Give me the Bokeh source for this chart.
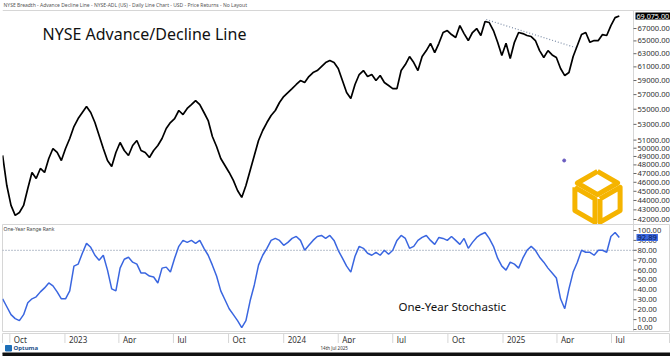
import math
import pandas as pd
from bokeh.plotting import figure
from bokeh.layouts import column
from bokeh.models import Range1d, LinearScale
from bokeh.core.properties import value
from bokeh.embed import file_html
from bokeh.resources import INLINE

HEADER = "NYSE Breadth - Advance Decline Line - NYSE-ADL (US) - Daily Line Chart - USD - Price Returns - No Layout"
TITLE = "NYSE Advance/Decline Line"
PANEL2_TITLE = "One-Year Range Rank"
PANEL2_NOTE = "One-Year Stochastic"
FOOTER_DATE = "14th Jul 2025"
BRAND = "Optuma"

dates = pd.date_range("2022-09-19", "2025-07-14", freq="W-MON")

adl = [49120, 45640, 43470, 42420, 42730, 43470, 45310, 47120, 46430, 47580,
       47120, 48760, 49960, 49480, 48520, 49960, 51200, 52720, 53760, 54560,
       55360, 54560, 53240, 51580, 49960, 48520, 47810, 49480, 50700, 49720,
       49120, 50330, 50950, 49720, 49480, 48880, 49720, 50330, 51200, 52470,
       53240, 53760, 54830, 54290, 55100, 55630, 56180, 55630, 54560, 53500,
       51450, 50210, 48760, 47930, 47120, 46210, 45090, 44330, 45640, 47350,
       49120, 50950, 52210, 53240, 54160, 54830, 55910, 56730, 57290, 57850,
       58430, 59000, 58710, 59570, 60160, 60460, 61050, 61650, 61950, 61650,
       60760, 59000, 57290, 56450, 58430, 59870, 60460, 59570, 59870, 59000,
       59720, 58710, 58280, 57850, 57850, 60460, 61350, 62560, 61650, 60460,
       62560, 63480, 64620, 63170, 64620, 66350, 66670, 66020, 65540, 67490,
       66180, 65060, 66350, 67000, 65860, 68160, 67990, 66670, 64780, 62720,
       64620, 62260, 64780, 66350, 66180, 65860, 65700, 65060, 63480, 62420,
       63480, 62810, 62420, 60760, 59720, 60160, 62560, 64270, 66020, 66350,
       64780, 65060, 65060, 66020, 65860, 67490, 68810, 69075]

rank = [31, 23, 15, 11, 9, 15, 27, 31, 33, 38,
        42, 47, 44, 38, 31, 31, 39, 64, 66, 77,
        87, 83, 75, 70, 75, 60, 41, 39, 62, 71,
        73, 68, 66, 57, 57, 54, 53, 47, 62, 63,
        58, 72, 84, 90, 88, 90, 87, 90, 82, 75,
        65, 54, 39, 30, 21, 15, 9, 2, 9, 29,
        45, 65, 75, 82, 90, 92, 90, 85, 88, 92,
        94, 90, 80, 85, 90, 94, 95, 92, 95, 90,
        80, 72, 64, 58, 74, 84, 82, 77, 75, 78,
        75, 80, 76, 80, 90, 95, 92, 82, 84, 90,
        93, 95, 90, 86, 93, 92, 90, 94, 90, 86,
        92, 82, 88, 93, 96, 98, 92, 84, 72, 64,
        60, 68, 66, 62, 72, 80, 84, 80, 73, 68,
        62, 57, 52, 31, 21, 41, 58, 68, 80, 78,
        78, 75, 80, 80, 78, 94, 98, 92.89]

adl_ticks = [42000, 43000, 44000, 45000, 46000, 47000, 48000, 49000, 50000,
             51000, 53000, 55000, 57000, 59000, 61000, 63000, 65000, 67000]
rank_ticks = [0, 10, 20, 30, 40, 50, 60, 70, 80, 90, 100]
rank_ref = 80
last_adl = 69075.00
last_rank = 92.89

quarter_starts = pd.to_datetime(["2022-10-01", "2023-01-01", "2023-04-01", "2023-07-01",
                                 "2023-10-01", "2024-01-01", "2024-04-01", "2024-07-01",
                                 "2024-10-01", "2025-01-01", "2025-04-01", "2025-07-01"])
quarter_labels = ["Oct", "2023", "Apr", "Jul", "Oct", "2024", "Apr", "Jul", "Oct", "2025", "Apr", "Jul"]

trend_dates = pd.to_datetime(["2024-12-04", "2025-05-02"])
trend_vals = [68490, 63950]

# ---------------- layout constants ----------------
FONT = "Noto Sans"
FONT_V = value(FONT)
TW = 668          # full frame width (data area + value-axis strip)
FW = 631          # data area width
HEAD = 10         # header strip above the upper panel
H1 = 214
H2 = 108
HB = 11
HF = 13
GRID = "#d6d6d6"
x_start = pd.Timestamp("2022-09-18 19:00")
x_end = pd.Timestamp("2025-08-06 17:00")
Y1 = (41489, 70020)
Y2 = (-3.03, 106.06)


def ms(t):
    return pd.Timestamp(t).value / 1e6


px_per_ms = FW / (ms(x_end) - ms(x_start))
x_full_end = ms(x_start) + TW / px_per_ms
XE = ms(x_end)
tick_len = 3 / px_per_ms


def mkfig(h, yr, **kw):
    p = figure(x_axis_type="datetime", frame_width=TW, frame_height=h,
               x_range=Range1d(ms(x_start), x_full_end), y_range=yr,
               x_axis_location=None, y_axis_location=None,
               toolbar_location=None, output_backend="svg",
               min_border_left=2, min_border_right=0, min_border_top=0,
               min_border_bottom=0, **kw)
    p.grid.visible = False
    p.outline_line_color = None
    p.background_fill_color = "#ffffff"
    p.border_fill_color = "#ffffff"
    return p


def value_axis(p, ticks, lo, hi, fmt, y_offsets=0):
    # boundary of the data area and the value labels to its right
    p.segment(x0=[XE], x1=[XE], y0=[lo], y1=[hi], color=GRID, line_width=1)
    p.segment(x0=[XE] * len(ticks), x1=[XE + tick_len] * len(ticks), y0=ticks, y1=ticks,
              color="#666666", line_width=1)
    p.text(x=[XE] * len(ticks), y=ticks, text=[fmt(t) for t in ticks], x_offset=4,
           y_offset=y_offsets, text_font_size="7.6px", text_baseline="middle",
           text_align="left", text_color="#333333", text_font=FONT_V)


# ---------------- upper panel ----------------
top1 = Y1[1] * math.exp(HEAD * math.log(Y1[1] / Y1[0]) / H1)
p1 = mkfig(HEAD + H1, Range1d(Y1[0], top1), y_axis_type="log")
p1.extra_x_ranges = {"px": Range1d(0, TW)}
p1.extra_y_ranges = {"px": Range1d(HEAD + H1, 0)}
p1.extra_y_scales = {"px": LinearScale()}

p1.segment(x0=[ms(x_start)], x1=[x_full_end], y0=[Y1[1]], y1=[Y1[1]], color=GRID, line_width=1)
value_axis(p1, adl_ticks, Y1[0], Y1[1], lambda t: f"{t:.2f}")

p1.line(dates, adl, color="#000000", line_width=1.7)
p1.line(trend_dates, trend_vals, color="#7f8fa8", line_width=1.2, line_dash="1 2")
p1.scatter([ms("2025-04-13")], [48520], size=3, color="#6a5cc0")

# logo: three interlocking rhombus loops forming a hexagon (pixel overlay)
gold = "#F5B400"
lcx, lcy, R = 595, 197, 29
verts = {k: (lcx + R * math.cos(math.radians(a)), lcy - R * math.sin(math.radians(a)))
         for k, a in [("t", 90), ("ur", 30), ("lr", -30), ("b", -90), ("ll", -150), ("ul", 150)]}
verts["c"] = (lcx, lcy)
for keys in [("t", "ur", "c", "ul"), ("ul", "c", "b", "ll"), ("c", "ur", "lr", "b")]:
    pts = [verts[k] for k in keys]
    mx = sum(q[0] for q in pts) / 4
    my = sum(q[1] for q in pts) / 4
    xs = [mx + 0.80 * (q[0] - mx) for q in pts] + [mx + 0.80 * (pts[0][0] - mx)]
    ys = [my + 0.80 * (q[1] - my) for q in pts] + [my + 0.80 * (pts[0][1] - my)]
    p1.line(xs, ys, x_range_name="px", y_range_name="px", color=gold, line_width=5,
            line_join="round")

p1.text([1], [4.5], text=[HEADER], x_range_name="px", y_range_name="px",
        text_font=FONT_V, text_font_size="5px", text_color="#555555", text_baseline="middle")
p1.text([40], [33], text=[TITLE], x_range_name="px", y_range_name="px",
        text_font=FONT_V, text_font_size="16px", text_color="#111111", text_baseline="middle")
p1.text([XE], [last_adl], text=[f"{last_adl:,.2f}"], x_offset=2,
        text_font=FONT_V, text_font_size="7.2px", text_color="#ffffff", text_baseline="middle",
        background_fill_color="#000000", padding=1)

# ---------------- lower panel ----------------
p2 = mkfig(H2, Range1d(*Y2))
p2.extra_x_ranges = {"px": Range1d(0, TW)}
p2.extra_y_ranges = {"px": Range1d(H2, 0)}
p2.outline_line_color = GRID
value_axis(p2, rank_ticks, Y2[0], Y2[1], lambda t: f"{t:.2f}",
           y_offsets=[-2 if t == rank_ticks[0] else 0 for t in rank_ticks])
p2.segment(x0=[ms(x_start)], x1=[XE + tick_len], y0=[rank_ref], y1=[rank_ref],
           color="#6f7f99", line_dash="1 2", line_width=1)
p2.line(dates, rank, color="#3a66e0", line_width=1.5)
p2.text([1], [4.5], text=[PANEL2_TITLE], x_range_name="px", y_range_name="px",
        text_font=FONT_V, text_font_size="5px", text_color="#444444", text_baseline="middle")
p2.text([396], [82], text=[PANEL2_NOTE], x_range_name="px", y_range_name="px",
        text_font=FONT_V, text_font_size="11.5px", text_color="#111111", text_baseline="middle")
p2.text([XE], [last_rank], text=[f"{last_rank:.2f}"], x_offset=3,
        text_font=FONT_V, text_font_size="7.6px", text_color="#0a1a4a", text_baseline="middle",
        background_fill_color="#3a66e0", padding=1)

# ---------------- date band ----------------
pb = mkfig(HB, Range1d(0, 1))
pb.outline_line_color = GRID
n = len(quarter_starts)
pb.segment(x0=quarter_starts, x1=quarter_starts, y0=[0] * n, y1=[1] * n, color=GRID, line_width=1)
pb.text(x=quarter_starts, y=[0.5] * n, text=quarter_labels, x_offset=4,
        text_font=FONT_V, text_font_size="8px", text_color="#333333",
        text_baseline="middle", text_align="left")

# ---------------- footer ----------------
p3 = figure(frame_width=TW, frame_height=HF, x_range=Range1d(0, TW), y_range=Range1d(HF, 0),
            x_axis_location=None, y_axis_location=None, toolbar_location=None,
            output_backend="svg", min_border_left=2, min_border_right=0,
            min_border_top=0, min_border_bottom=0)
p3.grid.visible = False
p3.outline_line_color = None
p3.quad(left=-2, right=TW, top=9.5, bottom=HF, color="#111111")
p3.quad(left=3, right=9, top=2, bottom=7.5, color="#1d6fb8")
p3.text([11], [4.8], text=[BRAND], text_font=FONT_V, text_font_size="6px",
        text_baseline="middle", text_color="#1d4f8a", text_font_style="bold")
p3.text([318], [4.8], text=[FOOTER_DATE], text_font=FONT_V, text_font_size="4.5px",
        text_baseline="middle", text_color="#333333")

layout = column(p1, p2, pb, p3, spacing=0)
open("out.html", "w").write(file_html(layout, INLINE))
